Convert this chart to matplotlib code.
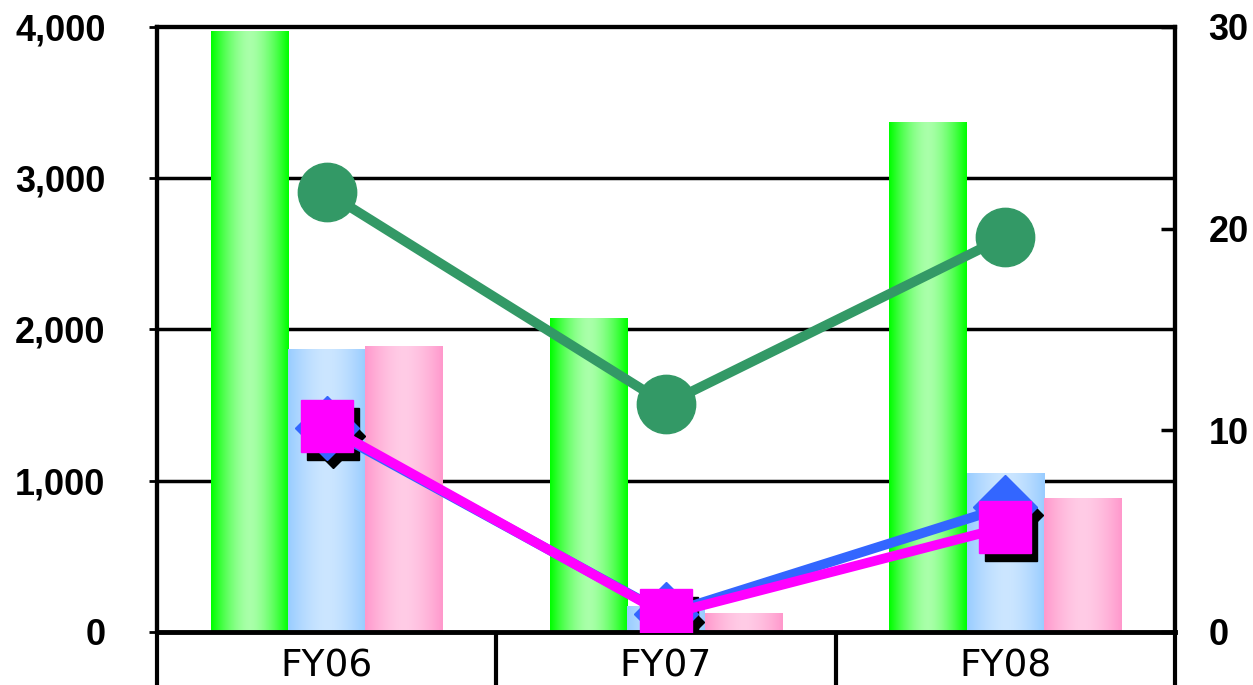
import numpy as np
import matplotlib.pyplot as plt
from matplotlib.colors import to_rgb
from matplotlib.transforms import ScaledTranslation

# categories and values
categories = ['FY06', 'FY07', 'FY08']
green_bars = [3970, 2070, 3370]
blue_bars = [1870, 170, 1050]
pink_bars = [1890, 120, 880]
green_line = [21.8, 11.3, 19.6]
blue_line = [10.1, 0.9, 6.2]
magenta_line = [10.2, 0.85, 5.2]

left_ticks = [0, 1000, 2000, 3000, 4000]
left_ticklabels = ['0', '1,000', '2,000', '3,000', '4,000']
right_ticks = [0, 10, 20, 30]

fig = plt.figure(figsize=(12.53, 6.85), dpi=100)
ax = fig.add_axes([0.1253, 0.0774, 0.8124, 0.8832])
ax2 = ax.twinx()

x = np.arange(len(categories))
w = 0.228


def grad_bar(ax, xc, h, edge, mid):
    # horizontal gradient: saturated edges, light centre
    edge = np.array(to_rgb(edge))
    mid = np.array(to_rgb(mid))
    t = np.linspace(-1, 1, 64)
    k = np.clip(np.abs(t) ** 1.6, 0, 1)[:, None]
    row = mid * (1 - k) + edge * k
    ax.imshow(row[None, :, :], extent=[xc - w / 2, xc + w / 2, 0, h],
              aspect='auto', interpolation='bilinear', zorder=2)


for i in range(len(categories)):
    grad_bar(ax, x[i] - w, green_bars[i], '#00ff00', '#aaffaa')
    grad_bar(ax, x[i], blue_bars[i], '#99ccff', '#cce6ff')
    grad_bar(ax, x[i] + w, pink_bars[i], '#ff99cc', '#ffcce6')

ax.set_xlim(-0.5, 2.5)
ax.set_ylim(0, 4000)
ax2.set_ylim(0, 30)

# grid lines
for v in [1000, 2000, 3000]:
    ax.axhline(v, color='black', lw=2.5, zorder=1)
ax.axhline(0, color='black', lw=3.5, zorder=3, clip_on=False)

# category dividers below the plot
for b in [-0.5, 0.5, 1.5, 2.5]:
    ax.plot([b, b], [0, -0.12], color='black', lw=3, clip_on=False,
            transform=ax.get_xaxis_transform(), solid_capstyle='butt')

ax.set_xticks(x)
ax.set_xticklabels(categories, fontsize=27, family='DejaVu Sans')
ax.tick_params(axis='x', length=0, pad=12)

ax.set_yticks(left_ticks)
ax.set_yticklabels(left_ticklabels, fontsize=26, fontweight='bold',
                   family='Liberation Sans')
ax.tick_params(axis='y', direction='out', length=6, width=2, pad=31)

ax2.set_yticks(right_ticks)
ax2.set_yticklabels([str(v) for v in right_ticks], fontsize=26,
                    fontweight='bold', family='Liberation Sans')
ax2.tick_params(axis='y', direction='in', length=10, width=2.5, pad=24)

for a in (ax, ax2):
    for s in a.spines.values():
        s.set_linewidth(3)
    a.spines['bottom'].set_visible(False)

# shadows for the diamond and square markers
shadow = ax2.transData + ScaledTranslation(6 / 100, -8 / 100, fig.dpi_scale_trans)
ax2.plot(x, blue_line, 'D', color='black', ms=33, transform=shadow, zorder=4)
ax2.plot(x, magenta_line, 's', color='black', ms=37, transform=shadow, zorder=4)

ax2.plot(x, blue_line, color='#3366ff', lw=7, marker='D', ms=33, zorder=5)
ax2.plot(x, magenta_line, color='#ff00ff', lw=7, marker='s', ms=37, zorder=6)
ax2.plot(x, green_line, color='#339966', lw=7, marker='o', ms=42, zorder=7)

fig.savefig('out.png', dpi=100)
